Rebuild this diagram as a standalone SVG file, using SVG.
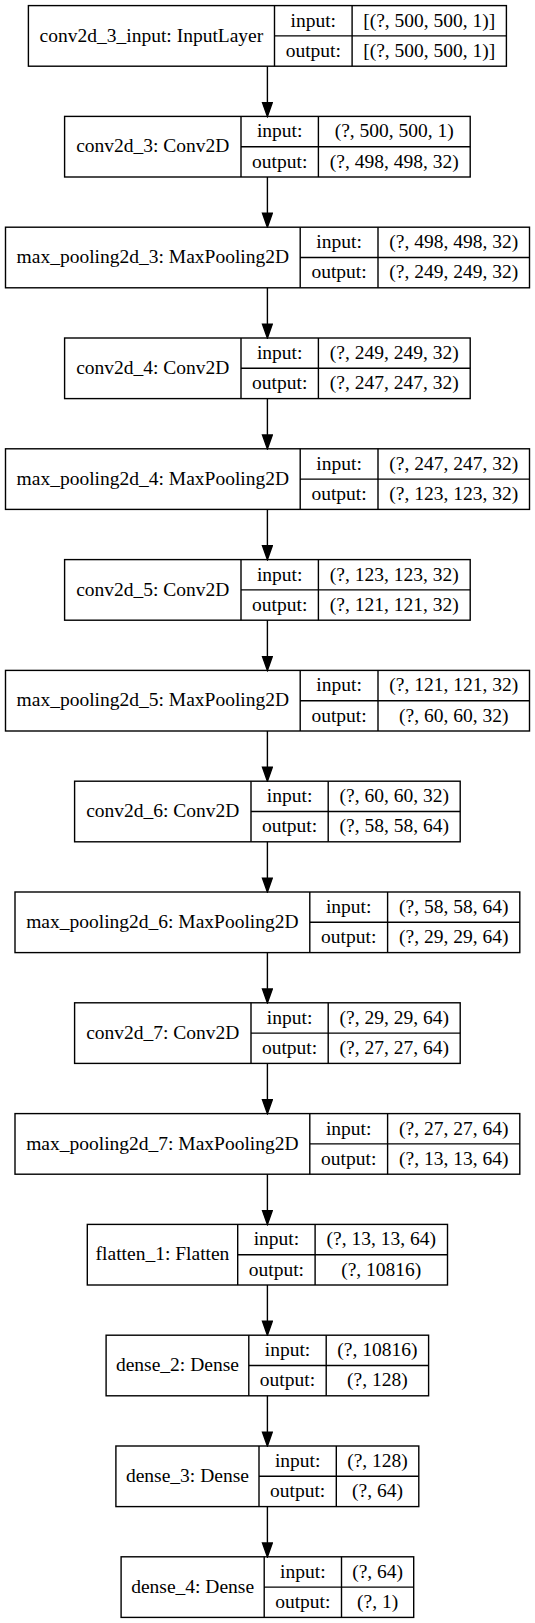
<svg xmlns="http://www.w3.org/2000/svg" width="535" height="1623" viewBox="0 0 535 1623">
<style>
.b{fill:none;stroke:#000;stroke-width:1.4}
.t{font-family:"Liberation Serif","Times New Roman",serif;font-size:19.5px;fill:#000;text-anchor:middle}
.e{fill:none;stroke:#000;stroke-width:1.4}
</style>
<defs>
<marker id="ah" markerUnits="userSpaceOnUse" markerWidth="16" markerHeight="12" viewBox="-1 -6 16 12" refX="0" refY="0" orient="auto">
<path d="M0,-4.9 L13.9,0 L0,4.9 Z" fill="#000" stroke="#000" stroke-width="1.4"/>
</marker>
</defs>
<rect width="535" height="1623" fill="#fff"/>
<g id="connectors">
<path class="e" marker-end="url(#ah)" d="M267.4,66.2 V102.5"/>
<path class="e" marker-end="url(#ah)" d="M267.4,177 V213.3"/>
<path class="e" marker-end="url(#ah)" d="M267.4,287.8 V324.1"/>
<path class="e" marker-end="url(#ah)" d="M267.4,398.6 V434.9"/>
<path class="e" marker-end="url(#ah)" d="M267.4,509.4 V545.7"/>
<path class="e" marker-end="url(#ah)" d="M267.4,620.2 V656.5"/>
<path class="e" marker-end="url(#ah)" d="M267.4,731 V767.3"/>
<path class="e" marker-end="url(#ah)" d="M267.4,841.8 V878.1"/>
<path class="e" marker-end="url(#ah)" d="M267.4,952.6 V988.9"/>
<path class="e" marker-end="url(#ah)" d="M267.4,1063.4 V1099.7"/>
<path class="e" marker-end="url(#ah)" d="M267.4,1174.2 V1210.5"/>
<path class="e" marker-end="url(#ah)" d="M267.4,1285 V1321.3"/>
<path class="e" marker-end="url(#ah)" d="M267.4,1395.8 V1432.1"/>
<path class="e" marker-end="url(#ah)" d="M267.4,1506.6 V1542.9"/>
</g>
<g id="n0" transform="translate(0,5.6)">
<rect class="b" x="28.4" y="0" width="478" height="60.6"/>
<path class="b" d="M274.5,0 V60.6 M352.1,0 V60.6 M274.5,30.3 H506.4"/>
<text class="t" x="151.45" y="36.1">conv2d_3_input: InputLayer</text>
<text class="t" x="313.3" y="21">input:</text>
<text class="t" x="313.3" y="51.2">output:</text>
<text class="t" x="429.25" y="21">[(?, 500, 500, 1)]</text>
<text class="t" x="429.25" y="51.2">[(?, 500, 500, 1)]</text>
</g>
<g id="n1" transform="translate(0,116.4)">
<rect class="b" x="64.6" y="0" width="405.6" height="60.6"/>
<path class="b" d="M241,0 V60.6 M318.4,0 V60.6 M241,30.3 H470.2"/>
<text class="t" x="152.8" y="36.1">conv2d_3: Conv2D</text>
<text class="t" x="279.7" y="21">input:</text>
<text class="t" x="279.7" y="51.2">output:</text>
<text class="t" x="394.3" y="21">(?, 500, 500, 1)</text>
<text class="t" x="394.3" y="51.2">(?, 498, 498, 32)</text>
</g>
<g id="n2" transform="translate(0,227.2)">
<rect class="b" x="5.5" y="0" width="524" height="60.6"/>
<path class="b" d="M300.2,0 V60.6 M378,0 V60.6 M300.2,30.3 H529.5"/>
<text class="t" x="152.85" y="36.1">max_pooling2d_3: MaxPooling2D</text>
<text class="t" x="339.1" y="21">input:</text>
<text class="t" x="339.1" y="51.2">output:</text>
<text class="t" x="453.75" y="21">(?, 498, 498, 32)</text>
<text class="t" x="453.75" y="51.2">(?, 249, 249, 32)</text>
</g>
<g id="n3" transform="translate(0,338)">
<rect class="b" x="64.6" y="0" width="405.6" height="60.6"/>
<path class="b" d="M241,0 V60.6 M318.4,0 V60.6 M241,30.3 H470.2"/>
<text class="t" x="152.8" y="36.1">conv2d_4: Conv2D</text>
<text class="t" x="279.7" y="21">input:</text>
<text class="t" x="279.7" y="51.2">output:</text>
<text class="t" x="394.3" y="21">(?, 249, 249, 32)</text>
<text class="t" x="394.3" y="51.2">(?, 247, 247, 32)</text>
</g>
<g id="n4" transform="translate(0,448.8)">
<rect class="b" x="5.5" y="0" width="524" height="60.6"/>
<path class="b" d="M300.2,0 V60.6 M378,0 V60.6 M300.2,30.3 H529.5"/>
<text class="t" x="152.85" y="36.1">max_pooling2d_4: MaxPooling2D</text>
<text class="t" x="339.1" y="21">input:</text>
<text class="t" x="339.1" y="51.2">output:</text>
<text class="t" x="453.75" y="21">(?, 247, 247, 32)</text>
<text class="t" x="453.75" y="51.2">(?, 123, 123, 32)</text>
</g>
<g id="n5" transform="translate(0,559.6)">
<rect class="b" x="64.6" y="0" width="405.6" height="60.6"/>
<path class="b" d="M241,0 V60.6 M318.4,0 V60.6 M241,30.3 H470.2"/>
<text class="t" x="152.8" y="36.1">conv2d_5: Conv2D</text>
<text class="t" x="279.7" y="21">input:</text>
<text class="t" x="279.7" y="51.2">output:</text>
<text class="t" x="394.3" y="21">(?, 123, 123, 32)</text>
<text class="t" x="394.3" y="51.2">(?, 121, 121, 32)</text>
</g>
<g id="n6" transform="translate(0,670.4)">
<rect class="b" x="5.5" y="0" width="524" height="60.6"/>
<path class="b" d="M300.2,0 V60.6 M378,0 V60.6 M300.2,30.3 H529.5"/>
<text class="t" x="152.85" y="36.1">max_pooling2d_5: MaxPooling2D</text>
<text class="t" x="339.1" y="21">input:</text>
<text class="t" x="339.1" y="51.2">output:</text>
<text class="t" x="453.75" y="21">(?, 121, 121, 32)</text>
<text class="t" x="453.75" y="51.2">(?, 60, 60, 32)</text>
</g>
<g id="n7" transform="translate(0,781.2)">
<rect class="b" x="74.6" y="0" width="385.6" height="60.6"/>
<path class="b" d="M251,0 V60.6 M328.2,0 V60.6 M251,30.3 H460.2"/>
<text class="t" x="162.8" y="36.1">conv2d_6: Conv2D</text>
<text class="t" x="289.6" y="21">input:</text>
<text class="t" x="289.6" y="51.2">output:</text>
<text class="t" x="394.2" y="21">(?, 60, 60, 32)</text>
<text class="t" x="394.2" y="51.2">(?, 58, 58, 64)</text>
</g>
<g id="n8" transform="translate(0,892)">
<rect class="b" x="15" y="0" width="504.8" height="60.6"/>
<path class="b" d="M309.8,0 V60.6 M387.6,0 V60.6 M309.8,30.3 H519.8"/>
<text class="t" x="162.4" y="36.1">max_pooling2d_6: MaxPooling2D</text>
<text class="t" x="348.7" y="21">input:</text>
<text class="t" x="348.7" y="51.2">output:</text>
<text class="t" x="453.7" y="21">(?, 58, 58, 64)</text>
<text class="t" x="453.7" y="51.2">(?, 29, 29, 64)</text>
</g>
<g id="n9" transform="translate(0,1002.8)">
<rect class="b" x="74.6" y="0" width="385.6" height="60.6"/>
<path class="b" d="M251,0 V60.6 M328.2,0 V60.6 M251,30.3 H460.2"/>
<text class="t" x="162.8" y="36.1">conv2d_7: Conv2D</text>
<text class="t" x="289.6" y="21">input:</text>
<text class="t" x="289.6" y="51.2">output:</text>
<text class="t" x="394.2" y="21">(?, 29, 29, 64)</text>
<text class="t" x="394.2" y="51.2">(?, 27, 27, 64)</text>
</g>
<g id="n10" transform="translate(0,1113.6)">
<rect class="b" x="15" y="0" width="504.8" height="60.6"/>
<path class="b" d="M309.8,0 V60.6 M387.6,0 V60.6 M309.8,30.3 H519.8"/>
<text class="t" x="162.4" y="36.1">max_pooling2d_7: MaxPooling2D</text>
<text class="t" x="348.7" y="21">input:</text>
<text class="t" x="348.7" y="51.2">output:</text>
<text class="t" x="453.7" y="21">(?, 27, 27, 64)</text>
<text class="t" x="453.7" y="51.2">(?, 13, 13, 64)</text>
</g>
<g id="n11" transform="translate(0,1224.4)">
<rect class="b" x="87.3" y="0" width="360.2" height="60.6"/>
<path class="b" d="M237.7,0 V60.6 M315.1,0 V60.6 M237.7,30.3 H447.5"/>
<text class="t" x="162.5" y="36.1">flatten_1: Flatten</text>
<text class="t" x="276.4" y="21">input:</text>
<text class="t" x="276.4" y="51.2">output:</text>
<text class="t" x="381.3" y="21">(?, 13, 13, 64)</text>
<text class="t" x="381.3" y="51.2">(?, 10816)</text>
</g>
<g id="n12" transform="translate(0,1335.2)">
<rect class="b" x="106.1" y="0" width="322.5" height="60.6"/>
<path class="b" d="M248.8,0 V60.6 M326.2,0 V60.6 M248.8,30.3 H428.6"/>
<text class="t" x="177.45" y="36.1">dense_2: Dense</text>
<text class="t" x="287.5" y="21">input:</text>
<text class="t" x="287.5" y="51.2">output:</text>
<text class="t" x="377.4" y="21">(?, 10816)</text>
<text class="t" x="377.4" y="51.2">(?, 128)</text>
</g>
<g id="n13" transform="translate(0,1446)">
<rect class="b" x="115.9" y="0" width="302.9" height="60.6"/>
<path class="b" d="M259,0 V60.6 M336.3,0 V60.6 M259,30.3 H418.8"/>
<text class="t" x="187.45" y="36.1">dense_3: Dense</text>
<text class="t" x="297.65" y="21">input:</text>
<text class="t" x="297.65" y="51.2">output:</text>
<text class="t" x="377.55" y="21">(?, 128)</text>
<text class="t" x="377.55" y="51.2">(?, 64)</text>
</g>
<g id="n14" transform="translate(0,1556.8)">
<rect class="b" x="121.1" y="0" width="292.6" height="60.6"/>
<path class="b" d="M264.2,0 V60.6 M341.5,0 V60.6 M264.2,30.3 H413.7"/>
<text class="t" x="192.65" y="36.1">dense_4: Dense</text>
<text class="t" x="302.85" y="21">input:</text>
<text class="t" x="302.85" y="51.2">output:</text>
<text class="t" x="377.6" y="21">(?, 64)</text>
<text class="t" x="377.6" y="51.2">(?, 1)</text>
</g>
</svg>
